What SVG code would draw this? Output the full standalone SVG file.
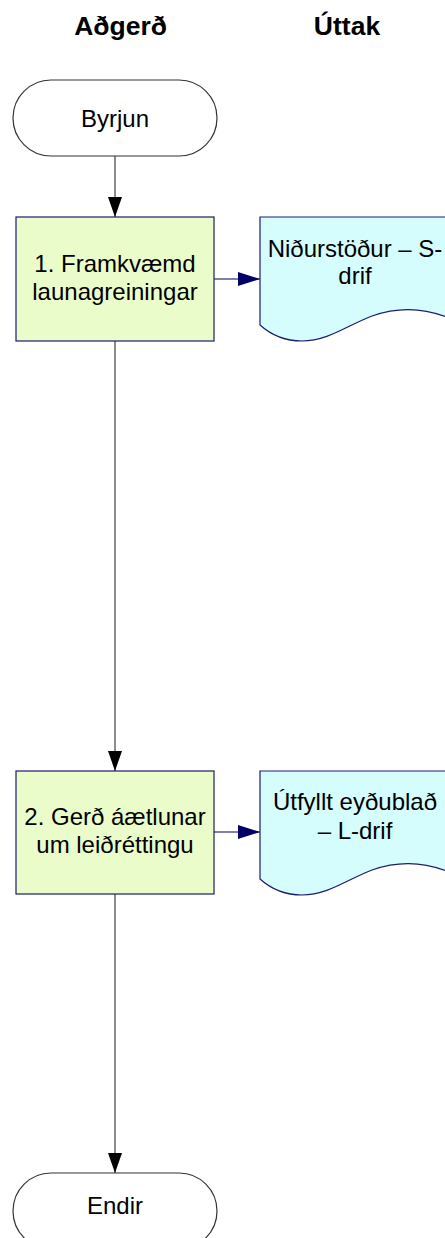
<svg xmlns="http://www.w3.org/2000/svg" width="445" height="1238" viewBox="0 0 445 1238">
  <style>
    .hdr { font-family: "Liberation Sans", Arial, sans-serif; font-size: 26.5px; font-weight: bold; fill: #000; text-anchor: middle; }
    .lbl { font-family: "Liberation Sans", Arial, sans-serif; font-size: 24px; fill: #000; text-anchor: middle; }
    .term { fill: #ffffff; stroke: #333333; stroke-width: 1.2; }
    .proc { fill: #ebfccb; stroke: #1c1c6e; stroke-width: 1.2; }
    .doc { fill: #d5fdfd; stroke: #1c1c6e; stroke-width: 1.2; }
    .flow { fill: none; stroke: #666666; stroke-width: 1.5; }
    .out { fill: none; stroke: #000066; stroke-width: 1.2; }
  </style>
  <defs>
    <marker id="arrowDown" markerWidth="20" markerHeight="14" refX="20" refY="7" orient="auto" markerUnits="userSpaceOnUse" viewBox="0 0 20 14">
      <path d="M0,0 L20,7 L0,14 Z" fill="#000000"/>
    </marker>
    <marker id="arrowOut" markerWidth="22" markerHeight="14" refX="22" refY="7" orient="auto" markerUnits="userSpaceOnUse" viewBox="0 0 22 14">
      <path d="M0,0 L22,7 L0,14 Z" fill="#000066"/>
    </marker>
  </defs>

  <!-- column headers -->
  <text class="hdr" x="120.5" y="35">Aðgerð</text>
  <text class="hdr" x="347" y="35">Úttak</text>

  <!-- connectors -->
  <g id="connectors">
    <line class="flow" x1="115" y1="156" x2="115" y2="217" marker-end="url(#arrowDown)"/>
    <line class="out" x1="214" y1="279" x2="260" y2="279" marker-end="url(#arrowOut)"/>
    <line class="flow" x1="115" y1="341" x2="115" y2="771" marker-end="url(#arrowDown)"/>
    <line class="out" x1="214" y1="832" x2="260" y2="832" marker-end="url(#arrowOut)"/>
    <line class="flow" x1="115" y1="894" x2="115" y2="1173" marker-end="url(#arrowDown)"/>
  </g>

  <!-- start terminator -->
  <g id="start">
    <rect class="term" x="13" y="80" width="204" height="76" rx="38" ry="38"/>
    <text class="lbl" x="115" y="127">Byrjun</text>
  </g>

  <!-- step 1 -->
  <g id="step1">
    <rect class="proc" x="16" y="217" width="198" height="124"/>
    <text class="lbl" x="115" y="272">1. Framkvæmd</text>
    <text class="lbl" x="115" y="300">launagreiningar</text>
  </g>

  <!-- output document 1 -->
  <g id="doc1">
    <path class="doc" d="M260,217 H452 V319 C420,306 395,308 372,316 C348,325 328,341 302,341 C285,341 270,334 260,325 Z"/>
    <text class="lbl" x="355" y="257">Niðurstöður – S-</text>
    <text class="lbl" x="355" y="284">drif</text>
  </g>

  <!-- step 2 -->
  <g id="step2">
    <rect class="proc" x="16" y="771" width="198" height="123"/>
    <text class="lbl" x="115" y="825">2. Gerð áætlunar</text>
    <text class="lbl" x="115" y="853">um leiðréttingu</text>
  </g>

  <!-- output document 2 -->
  <g id="doc2">
    <path class="doc" d="M260,771 H452 V873 C420,860 395,862 372,870 C348,879 328,895 302,895 C285,895 270,888 260,879 Z"/>
    <text class="lbl" x="355" y="810">Útfyllt eyðublað</text>
    <text class="lbl" x="355" y="839">– L-drif</text>
  </g>

  <!-- end terminator -->
  <g id="end">
    <rect class="term" x="13" y="1173" width="204" height="76" rx="38" ry="38"/>
    <text class="lbl" x="115" y="1214">Endir</text>
  </g>
</svg>
